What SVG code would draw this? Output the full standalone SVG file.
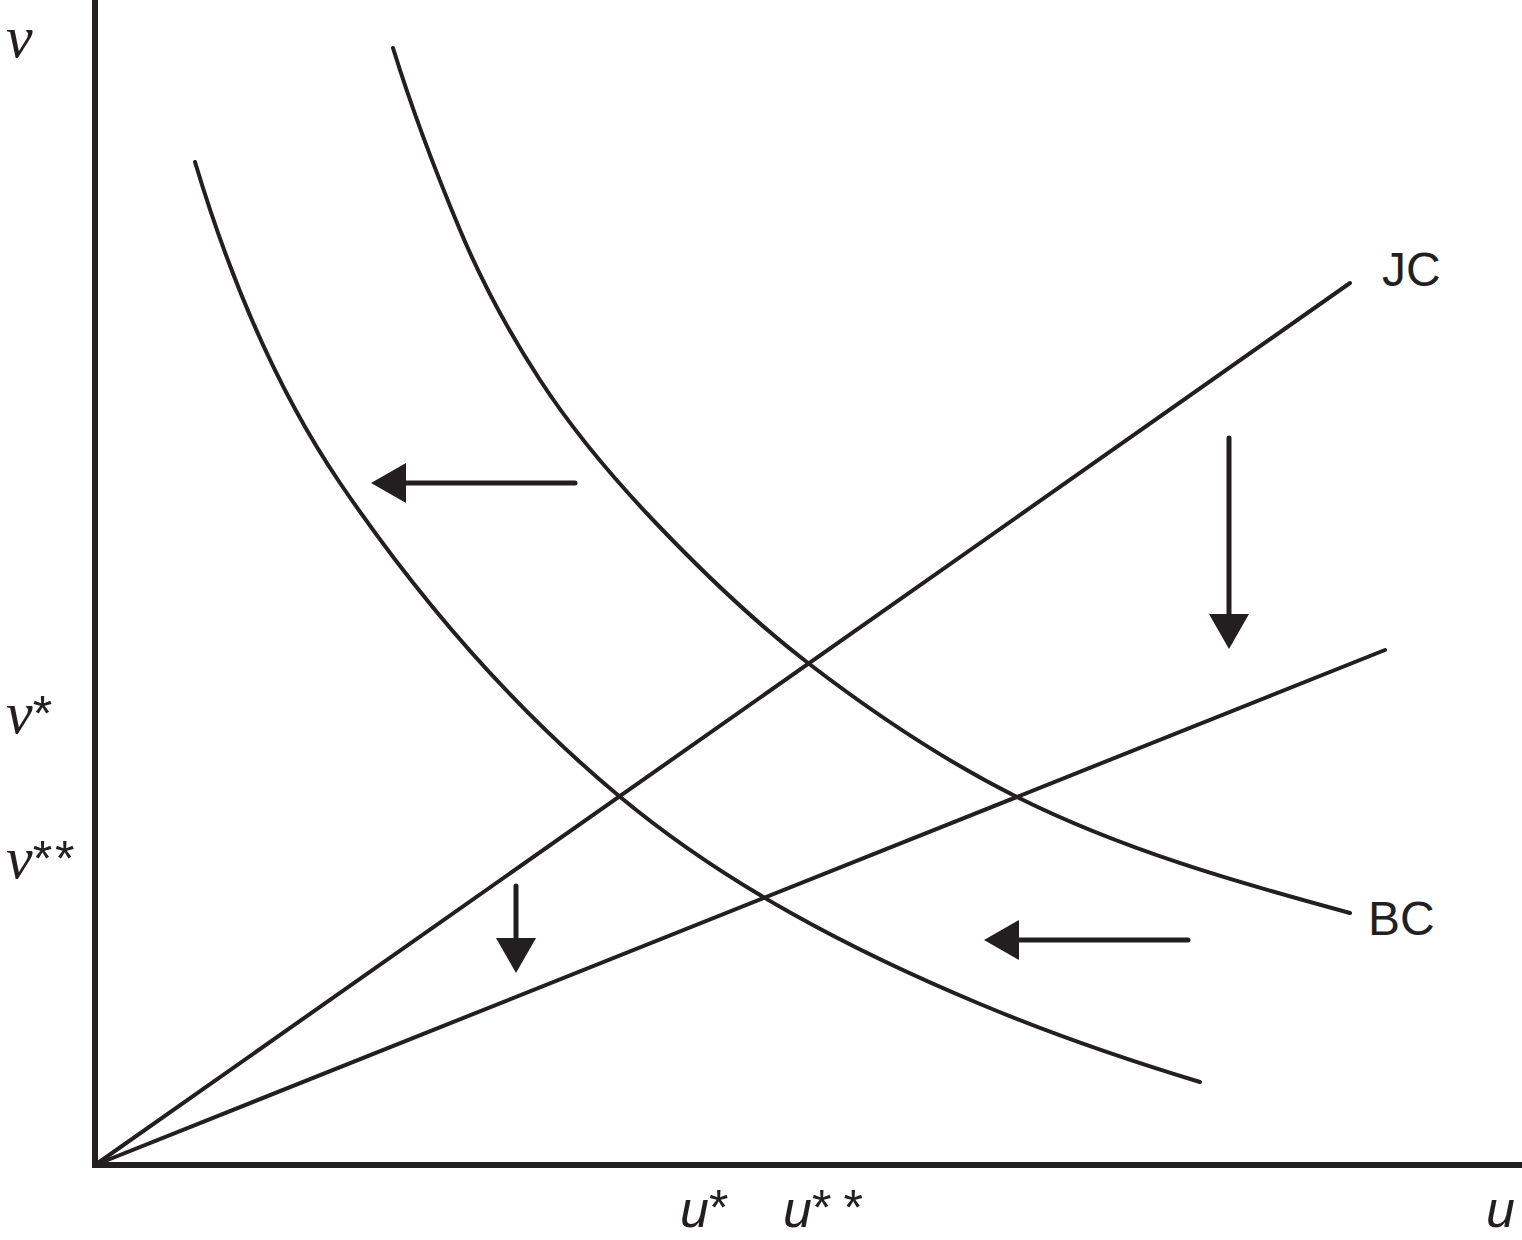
<svg xmlns="http://www.w3.org/2000/svg" width="1522" height="1240" viewBox="0 0 1522 1240">
<style>
.ax{stroke:#231f20;stroke-width:6;fill:none;stroke-linecap:butt}
.ln{stroke:#231f20;stroke-width:4;fill:none;stroke-linecap:round}
.arr{stroke:#231f20;stroke-width:5;fill:none;stroke-linecap:round}
.ser{font-family:"Liberation Serif","DejaVu Serif",serif;font-style:italic;font-size:60px;fill:#231f20}
.sans{font-family:"Liberation Sans",Arial,sans-serif;fill:#231f20}
.ui{font-style:italic;font-size:52px}
.lab{font-size:48px}
.ast{font-style:normal;font-family:"Liberation Sans",Arial,sans-serif;font-size:50px}
</style>
<defs>
<marker id="ah" markerUnits="userSpaceOnUse" markerWidth="36" markerHeight="42" viewBox="0 0 36 42" refX="1" refY="21" orient="auto">
<path d="M0,1 L35,21 L0,41 z" fill="#231f20"/>
</marker>
</defs>
<rect width="1522" height="1240" fill="#fff"/>
<g id="axes">
<line class="ax" x1="95" y1="0" x2="95" y2="1168"/>
<line class="ax" x1="92" y1="1165" x2="1522" y2="1165"/>
</g>
<g id="connectors">
<line id="jc" class="ln" x1="95" y1="1165" x2="1350" y2="283"/>
<line id="jc2" class="ln" x1="95" y1="1165" x2="1385" y2="650"/>
<path id="bc" class="ln" d="M393,48 C412.1,109.7 435,170.4 460,230 C481.9,282.3 509.1,332.5 540,380 C572.7,430.3 611.7,476.5 653,520 C701.4,571 752.3,620.1 808,663 C873.7,713.5 943,760 1017,797 C1122,849.5 1236.6,882.3 1350,913"/>
<path id="bc2" class="ln" d="M195,162 C228.7,274.5 274,385.9 340,483 C418.6,598.6 511.6,706.5 619,796 C725.7,884.9 851.8,950.5 980,1004 C1051.8,1034 1125.5,1059.4 1200,1082"/>
<line class="arr" x1="575" y1="483" x2="405" y2="483" marker-end="url(#ah)"/>
<line class="arr" x1="1188" y1="940" x2="1018" y2="940" marker-end="url(#ah)"/>
<line class="arr" x1="516" y1="886" x2="516" y2="939" marker-end="url(#ah)"/>
<line class="arr" x1="1229" y1="438" x2="1229" y2="615" marker-end="url(#ah)"/>
</g>
<g id="labels">
<text class="ser" x="6" y="57">ν</text>
<text class="ser" x="6" y="733">ν<tspan class="ast" dy="-2">*</tspan></text>
<text class="ser" x="6" y="878">ν<tspan class="ast" dy="-2" letter-spacing="3">**</tspan></text>
<text class="sans ui" x="680" y="1227">u<tspan class="ast" dy="-2">*</tspan></text>
<text class="sans ui" x="783" y="1227">u<tspan class="ast" dy="-2" letter-spacing="12">**</tspan></text>
<text class="sans ui" x="1486" y="1227">u</text>
<text class="sans lab" x="1382" y="286">JC</text>
<text class="sans lab" x="1368" y="935">BC</text>
</g>
</svg>
